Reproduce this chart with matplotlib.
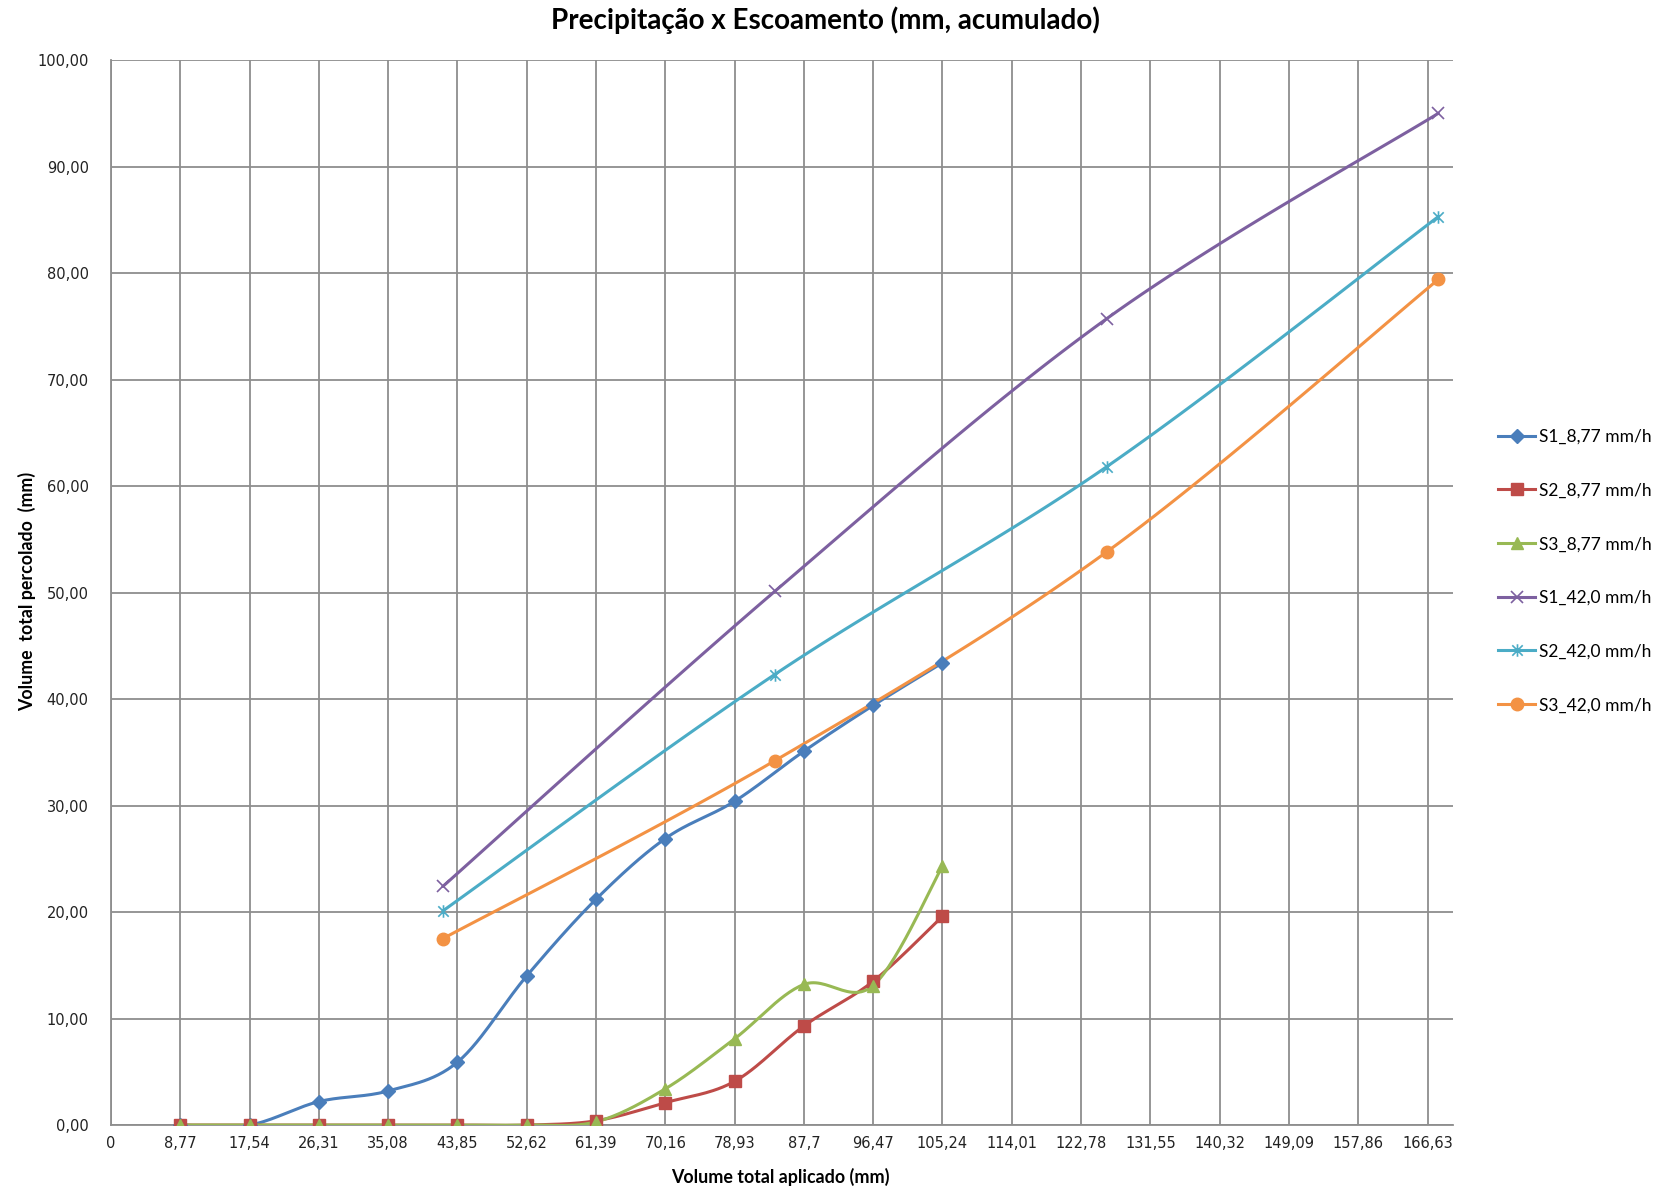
import numpy as np
import matplotlib
matplotlib.use("Agg")
import matplotlib.pyplot as plt
from matplotlib.path import Path

# ---------------- data ----------------
x_877 = [8.77, 17.54, 26.31, 35.08, 43.85, 52.62, 61.39, 70.16, 78.93, 87.70, 96.47, 105.24]
s1_877 = [0.0, 0.0, 2.2, 3.2, 5.9, 14.0, 21.2, 26.9, 30.4, 35.1, 39.4, 43.4]
s2_877 = [0.0, 0.0, 0.0, 0.0, 0.0, 0.0, 0.4, 2.1, 4.1, 9.3, 13.5, 19.6]
s3_877 = [0.0, 0.0, 0.0, 0.0, 0.0, 0.0, 0.3, 3.4, 8.1, 13.2, 13.1, 24.3]

x_42 = [42.0, 84.0, 126.0, 168.0]
s1_42 = [22.4, 50.1, 75.7, 95.0]
s2_42 = [20.1, 42.3, 61.8, 85.3]
s3_42 = [17.5, 34.2, 53.8, 79.4]

series_names = ["S1_8,77 mm/h", "S2_8,77 mm/h", "S3_8,77 mm/h",
                "S1_42,0 mm/h", "S2_42,0 mm/h", "S3_42,0 mm/h"]

x_ticks = [0, 8.77, 17.54, 26.31, 35.08, 43.85, 52.62, 61.39, 70.16, 78.93, 87.70,
           96.47, 105.24, 114.01, 122.78, 131.55, 140.32, 149.09, 157.86, 166.63]
x_tick_labels = ["0", "8,77", "17,54", "26,31", "35,08", "43,85", "52,62", "61,39",
                 "70,16", "78,93", "87,7", "96,47", "105,24", "114,01", "122,78",
                 "131,55", "140,32", "149,09", "157,86", "166,63"]
y_ticks = [0, 10, 20, 30, 40, 50, 60, 70, 80, 90, 100]
y_tick_labels = ["0,00", "10,00", "20,00", "30,00", "40,00", "50,00", "60,00",
                 "70,00", "80,00", "90,00", "100,00"]

title = "Precipitação x Escoamento (mm, acumulado)"
xlabel = "Volume total aplicado (mm)"
ylabel = "Volume  total percolado  (mm)"


# Excel-style smoothed line (Catmull-Rom Bezier drawing of the given points)
def smooth(xs, ys, n=30):
    P = np.column_stack([xs, ys]).astype(float)
    m = len(P)
    out = []
    for i in range(m - 1):
        p0 = P[i - 1] if i > 0 else P[i]
        p1 = P[i]
        p2 = P[i + 1]
        p3 = P[i + 2] if i + 2 < m else P[i + 1]
        b1 = p1 + (p2 - p0) / 6.0
        b2 = p2 - (p3 - p1) / 6.0
        t = np.linspace(0, 1, n)[:, None]
        seg = ((1 - t) ** 3) * p1 + 3 * ((1 - t) ** 2) * t * b1 + 3 * (1 - t) * t ** 2 * b2 + t ** 3 * p2
        if i > 0:
            seg = seg[1:]
        out.append(seg)
    c = np.vstack(out)
    return c[:, 0], c[:, 1]


star_marker = Path([(-1, -1), (1, 1), (-1, 1), (1, -1), (0, -1.2), (0, 1.2)],
                   [Path.MOVETO, Path.LINETO, Path.MOVETO, Path.LINETO, Path.MOVETO, Path.LINETO])

colors = ["#4A7EBB", "#BE4B48", "#98B954", "#7D60A0", "#4BACC6", "#F39244"]

fig = plt.figure(figsize=(16.61, 11.91), dpi=100)
ax = fig.add_axes([0.0668, 0.0554, 0.875 - 0.0668, 0.9496 - 0.0554])

styles = [
    dict(marker="D", ms=7.5, mfc=colors[0], mec=colors[0]),
    dict(marker="s", ms=8, mfc=colors[1], mec=colors[1]),
    dict(marker="^", ms=9, mfc=colors[2], mec=colors[2]),
    dict(marker="x", ms=9, mfc="none", mec=colors[3], mew=1.2),
    dict(marker=star_marker, ms=9, mfc="none", mec=colors[4], mew=1.2),
    dict(marker="o", ms=9, mfc=colors[5], mec=colors[5]),
]
data = [(x_877, s1_877), (x_877, s2_877), (x_877, s3_877),
        (x_42, s1_42), (x_42, s2_42), (x_42, s3_42)]

handles = []
for (xs, ys), col, st, name in zip(data, colors, styles, series_names):
    sx, sy = smooth(xs, ys)
    ax.plot(sx, sy, color=col, lw=2.2, zorder=3, solid_capstyle="round")
    ax.plot(xs, ys, ls="none", zorder=4, **st)
    h, = ax.plot([], [], color=col, lw=2.2, **st)
    handles.append(h)

ax.set_xlim(0, 169.9)
ax.set_ylim(0, 100)
ax.set_xticks(x_ticks)
ax.set_xticklabels(x_tick_labels)
ax.set_yticks(y_ticks)
ax.set_yticklabels(y_tick_labels)
ax.grid(True, color="#8E8E8E", lw=1.3)
ax.set_axisbelow(True)
for s in ["top", "right"]:
    ax.spines[s].set_visible(False)
for s in ["left", "bottom"]:
    ax.spines[s].set_color("#8E8E8E")
    ax.spines[s].set_linewidth(1.3)
ax.tick_params(axis="both", length=0, labelsize=10.5, colors="#222222")
ax.tick_params(axis="y", pad=16)
ax.tick_params(axis="x", pad=8)

fig.text(0.497, 0.983, title, ha="center", va="center", fontsize=20,
         fontweight="bold", family="Lato")
fig.text(0.470, 0.012, xlabel, ha="center", va="center", fontsize=12.9,
         fontweight="bold", family="Lato")
fig.text(0.016, 0.503, ylabel, ha="center", va="center", fontsize=12.8,
         fontweight="bold", family="Lato", rotation=90)

fig.legend(handles, series_names, loc="center left", bbox_to_anchor=(0.8925, 0.5206),
           frameon=False, labelspacing=2.17, handlelength=2.13,
           handletextpad=0.2, prop={"family": "Lato", "size": 12.5})

fig.savefig("out.png", dpi=100)
